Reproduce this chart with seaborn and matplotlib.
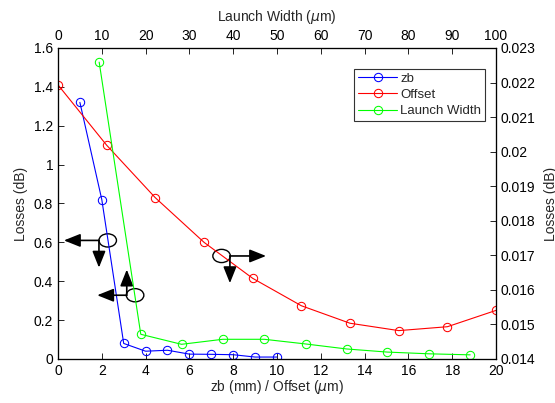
import matplotlib
matplotlib.use("Agg")
import matplotlib.pyplot as plt
from matplotlib.patches import Ellipse
from matplotlib.ticker import FuncFormatter
import numpy as np
import pandas as pd
import seaborn as sns

# data
zb_x = [1, 2, 3, 4, 5, 6, 7, 8, 9, 10]
zb_loss = [1.32, 0.82, 0.08, 0.04, 0.045, 0.025, 0.024, 0.022, 0.01, 0.01]

offset_x = [0, 2.22, 4.44, 6.67, 8.89, 11.11, 13.33, 15.56, 17.78, 20]
offset_loss = [1.41, 1.10, 0.83, 0.60, 0.415, 0.274, 0.184, 0.146, 0.166, 0.25]

lw_x = [9.4, 18.9, 28.2, 37.6, 47.1, 56.6, 65.9, 75.2, 84.7, 94.1]
lw_loss = [0.02259, 0.014715, 0.014425, 0.01457, 0.01457, 0.014434, 0.01429, 0.0142, 0.01415, 0.01412]

# annotations: ellipse centre, arrow tips (left axes data units)
ellipses = [(2.27, 0.61), (3.52, 0.328), (7.47, 0.53)]
arrows = [((1.87, 0.61), (0.27, 0.61)), ((1.87, 0.61), (1.87, 0.47)),
          ((3.14, 0.328), (1.79, 0.328)), ((3.14, 0.328), (3.14, 0.46)),
          ((7.85, 0.53), (9.5, 0.53)), ((7.85, 0.53), (7.85, 0.39))]

sns.set_style("ticks")
plt.rcParams['font.family'] = ['Liberation Sans', 'DejaVu Sans']
plt.rcParams['font.size'] = 10
plt.rcParams['xtick.direction'] = 'in'
plt.rcParams['ytick.direction'] = 'in'

fig = plt.figure(figsize=(5.55, 4.03), dpi=100)
ax = fig.add_axes([0.1045, 0.1092, 0.7892, 0.7718])
ax2 = ax.twinx()
ax3 = ax2.twiny()

mk = dict(marker='o', markersize=6, markerfacecolor='none', linewidth=0.8)
sns.lineplot(x=zb_x, y=zb_loss, ax=ax, color='#0000ff', markeredgecolor='#0000ff',
             label='zb', legend=False, **mk)
sns.lineplot(x=offset_x, y=offset_loss, ax=ax, color='#ff0000', markeredgecolor='#ff0000',
             label='Offset', legend=False, **mk)
sns.lineplot(x=lw_x, y=lw_loss, ax=ax3, color='#00ff00', markeredgecolor='#00ff00',
             label='Launch Width', legend=False, **mk)

fmt = FuncFormatter(lambda v, p: '%g' % round(v, 6))

ax.set_xlim(0, 20)
ax.set_ylim(0, 1.6)
ax.set_xticks(np.arange(0, 21, 2))
ax.set_yticks(np.arange(0, 1.61, 0.2))
ax.yaxis.set_major_formatter(fmt)
ax.set_xlabel(r'zb (mm) / Offset ($\mu$m)')
ax.set_ylabel('Losses (dB)')

ax2.set_ylim(0.014, 0.023)
ax2.set_yticks(np.arange(0.014, 0.02301, 0.001))
ax2.yaxis.set_major_formatter(fmt)
ax2.set_ylabel('Losses (dB)')

ax3.set_xlim(0, 100)
ax3.set_xticks(np.arange(0, 101, 10))
ax3.set_xlabel(r'Launch Width ($\mu$m)')

for a in (ax, ax2, ax3):
    for s in a.spines.values():
        s.set_color('black')
        s.set_linewidth(0.8)
    a.tick_params(colors='black', length=4, width=0.6, labelsize=10)
ax.xaxis.labelpad = 0
ax.yaxis.labelpad = 4
ax2.yaxis.labelpad = 6
ax3.xaxis.labelpad = 6

for c in ellipses:
    ax.add_patch(Ellipse(c, width=0.8, height=0.068, fill=False, edgecolor='black', lw=1))
for start, tip in arrows:
    ax.annotate('', xy=tip, xytext=start,
                arrowprops=dict(arrowstyle='-|>,head_length=1.0,head_width=0.4',
                                color='black', lw=1.2, shrinkA=0, shrinkB=0))

handles = []
labels = []
for a in (ax, ax3):
    h, l = a.get_legend_handles_labels()
    handles += h
    labels += l
leg = ax3.legend(handles, labels, loc='upper right', bbox_to_anchor=(0.99, 0.955),
                 fancybox=False, framealpha=1, edgecolor='#333333', fontsize=9.5,
                 handlelength=3, borderpad=0.3, labelspacing=0.3, handletextpad=0.2)
leg.get_frame().set_linewidth(0.8)

fig.savefig('out.png', dpi=100)
